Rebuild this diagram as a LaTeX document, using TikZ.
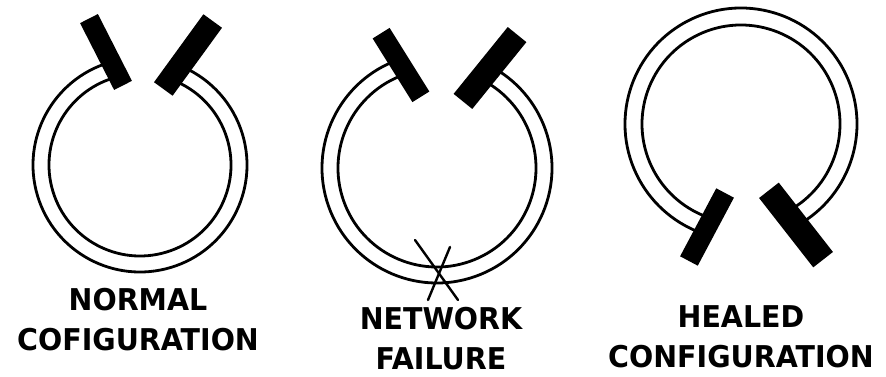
\documentclass[tikz,border=0pt]{standalone}
\usepackage{fontspec}
\setmainfont{DejaVu Sans}[FakeStretch=0.95]
\begin{document}
\begin{tikzpicture}[
  x=1pt, y=1pt,
  ring/.style={line width=2.8pt},
  plug/.style={rectangle, fill=black, inner sep=0pt, minimum width=20pt},
  cut/.style={line width=2.4pt, line cap=round},
  caption/.style={align=center, inner sep=0pt, font=\fontsize{30}{40}\selectfont\bfseries}
]
  \useasboundingbox (0,0) rectangle (886,377);

  % Normal configuration
  \draw[ring] (140,212) ++(106.7:107) arc[start angle=106.7, end angle=426.4, radius=107];
  \draw[ring] (140,212) ++(106.7:91)  arc[start angle=106.7, end angle=426.4, radius=91];
  \node[plug, minimum height=75pt, rotate=27]                    (normL) at (106,325) {};
  \node[plug, minimum width=23pt, minimum height=84pt, rotate=-36] (normR) at (188,322) {};
  \node[caption] (normT) at (138,57) {NORMAL\\COFIGURATION};

  % Network failure
  \draw[ring] (437,209) ++(109.3:115) arc[start angle=109.3, end angle=422.1, radius=115];
  \draw[ring] (437,209) ++(109.3:99)  arc[start angle=109.3, end angle=422.1, radius=99];
  \node[plug, minimum height=75pt, rotate=32]                    (failL) at (401,312) {};
  \node[plug, minimum width=24pt, minimum height=86pt, rotate=-39] (failR) at (490,309) {};
  \coordinate (xa1) at (415,137); \coordinate (xa2) at (458,77);
  \coordinate (xb1) at (450,130); \coordinate (xb2) at (428,77);
  \draw[cut] (xa1) -- (xa2);
  \draw[cut] (xb1) -- (xb2);
  \node[caption] (failT) at (441,38) {NETWORK\\FAILURE};

  % Healed configuration
  \draw[ring] (741,253) ++(298.6:116) arc[start angle=298.6, end angle=611.7, radius=116];
  \draw[ring] (741,253) ++(298.6:99)  arc[start angle=298.6, end angle=611.7, radius=99];
  \node[plug, minimum height=77pt, rotate=-28]                   (healL) at (707,150) {};
  \node[plug, minimum width=25pt, minimum height=88pt, rotate=38]  (healR) at (796,152) {};
  \node[caption] (healT) at (741,40) {HEALED\\CONFIGURATION};
\end{tikzpicture}
\end{document}
